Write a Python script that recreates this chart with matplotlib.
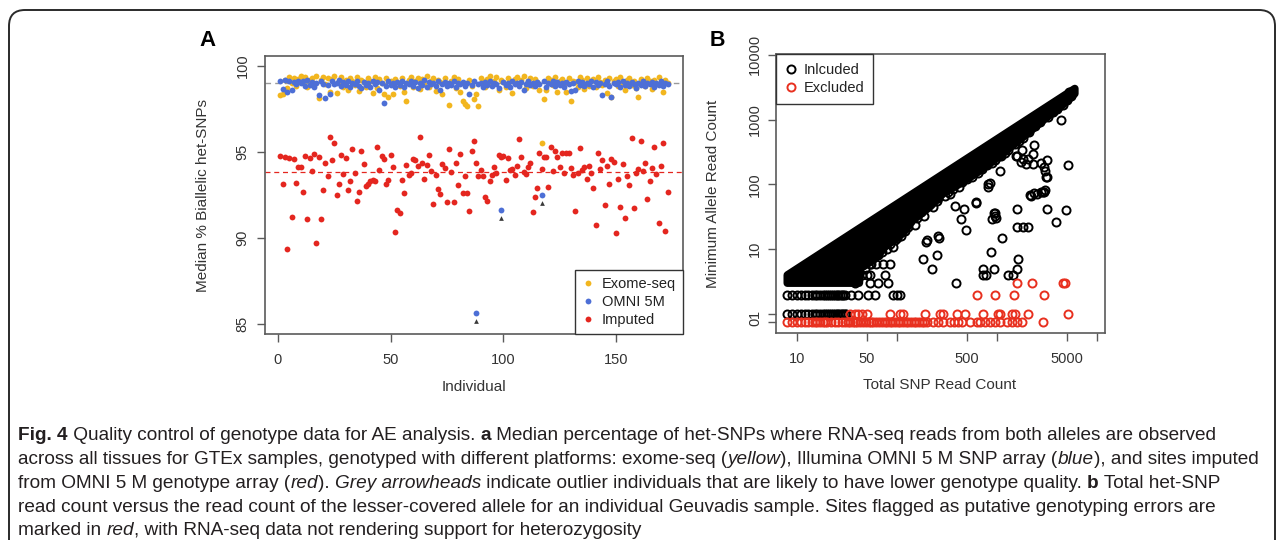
import matplotlib
matplotlib.use('Agg')
import matplotlib.pyplot as plt
import numpy as np
from matplotlib.lines import Line2D
from matplotlib.patches import FancyBboxPatch
from matplotlib.transforms import IdentityTransform
from matplotlib.ticker import NullLocator

## Panel A data: median % biallelic het-SNPs per individual

imputed = [94.77, 93.14, 94.73, 89.34, 94.67, 91.24, 94.57, 93.22, 94.11, 94.15,
           92.67, 94.79, 91.09, 94.63, 93.88, 94.88, 89.69, 94.73, 91.12, 92.79,
           94.34, 93.60, 95.85, 94.53, 95.54, 92.48, 93.14, 94.84, 93.72, 94.65,
           92.79, 93.33, 95.15, 93.76, 92.13, 92.67, 95.08, 94.30, 93.02, 93.14,
           93.30, 93.37, 93.33, 95.31, 93.95, 94.77, 94.57, 93.14, 93.37, 94.81,
           94.15, 90.35, 91.63, 91.43, 93.37, 92.63, 94.22, 93.64, 93.76, 94.61,
           94.53, 94.20, 95.85, 94.38, 93.45, 94.22, 94.81, 93.90, 91.98, 93.68,
           92.83, 92.56, 94.30, 94.05, 92.11, 95.19, 93.85, 92.11, 94.34, 93.06,
           94.88, 92.60, 93.60, 92.60, 91.57, 95.08, 95.62, 94.34, 93.60, 93.95,
           93.60, 92.37, 92.13, 93.33, 93.68, 94.10, 93.80, 94.83, 94.69, 94.77,
           93.37, 94.65, 93.95, 94.00, 93.66, 94.20, 95.77, 94.73, 93.86, 93.70,
           94.15, 94.34, 91.53, 92.37, 92.91, 94.92, 94.00, 94.73, 94.69, 92.95,
           95.31, 93.90, 95.08, 94.73, 94.10, 94.96, 93.80, 94.92, 94.92, 94.05,
           93.66, 91.57, 93.80, 95.21, 93.95, 94.10, 93.41, 94.20, 93.80, 92.91,
           90.76, 94.96, 94.00, 94.53, 91.92, 94.19, 93.14, 94.57, 94.42, 90.31,
           93.41, 91.78, 94.30, 91.18, 93.60, 93.08, 95.81, 91.73, 93.76, 94.00,
           95.62, 93.90, 94.34, 92.25, 93.31, 94.09, 95.30, 93.70, 90.90, 94.20,
           95.50, 90.40, 92.70]

omni = [99.15, 98.65, 99.20, 98.50, 99.10, 98.60, 99.05, 98.95, 99.15, 99.00,
        99.10, 98.85, 99.20, 98.90, 99.05, 98.80, 99.00, 98.30, 99.10, 98.95,
        98.15, 98.90, 98.40, 99.10, 98.95, 99.00, 99.20, 98.85, 99.05, 98.90,
        99.15, 98.75, 99.00, 98.95, 99.10, 98.85, 98.70, 99.05, 98.90, 99.00,
        98.80, 99.10, 98.95, 99.05, 98.60, 99.00, 97.83, 98.85, 99.10, 98.90,
        99.00, 98.75, 99.05, 98.90, 99.15, 98.80, 99.00, 98.95, 99.10, 98.85,
        99.05, 98.70, 99.00, 98.90, 99.20, 98.80, 99.05, 98.95, 99.00, 98.85,
        99.10, 98.60, 98.95, 99.05, 98.85, 99.00, 98.90, 99.10, 98.75, 99.00,
        98.95, 99.05, 98.85, 99.00, 98.37, 98.90, 99.10, 85.64, 98.95, 99.00,
        98.80, 99.05, 98.90, 99.10, 98.85, 99.00, 98.95, 98.70, 91.63, 99.05,
        98.90, 99.00, 98.80, 99.10, 98.95, 99.00, 98.85, 99.05, 98.60, 98.95,
        99.10, 98.90, 99.00, 98.85, 99.05, 98.95, 92.50, 99.15, 98.80, 99.00,
        98.95, 99.10, 98.85, 99.05, 98.90, 99.00, 98.75, 99.05, 98.95, 98.55,
        99.00, 98.60, 99.10, 98.90, 99.05, 98.85, 99.00, 98.95, 99.10, 98.80,
        99.05, 98.90, 99.00, 98.30, 98.95, 99.10, 98.85, 98.20, 99.00, 98.95,
        99.05, 98.80, 99.10, 98.90, 99.00, 98.85, 99.05, 98.95, 98.70, 99.00,
        98.90, 99.10, 98.85, 99.00, 98.95, 99.05, 98.80, 99.00, 98.90, 99.10,
        98.85, 99.00, 98.95]

exome = [98.31, 98.40, 99.20, 98.70, 99.35, 99.00, 99.30, 98.85, 99.25, 99.40,
         99.10, 99.35, 98.80, 99.20, 99.30, 98.90, 99.40, 98.12, 99.20, 99.35,
         98.95, 99.30, 98.50, 99.25, 99.40, 98.45, 99.15, 99.35, 98.75, 99.20,
         98.60, 99.30, 99.10, 98.90, 99.35, 98.55, 99.20, 99.05, 98.80, 99.30,
         99.15, 98.45, 99.35, 98.70, 99.25, 99.00, 98.40, 99.30, 98.20, 99.15,
         98.35, 99.25, 99.05, 98.85, 99.30, 98.50, 97.99, 99.20, 99.35, 98.75,
         99.10, 99.30, 98.65, 99.25, 98.95, 99.40, 98.80, 99.15, 99.30, 98.55,
         99.20, 99.05, 98.40, 99.30, 98.90, 97.76, 99.15, 99.35, 98.70, 99.25,
         98.50, 97.95, 97.80, 97.70, 99.20, 98.85, 98.10, 98.40, 97.70, 99.30,
         99.10, 98.75, 99.25, 99.40, 98.90, 99.15, 99.35, 98.60, 99.20, 99.05,
         98.80, 99.30, 99.15, 98.45, 99.25, 99.35, 98.95, 99.20, 99.40, 98.70,
         99.15, 99.30, 98.85, 99.25, 99.05, 98.60, 95.50, 98.06, 98.60, 99.30,
         99.20, 98.90, 99.35, 98.50, 99.10, 99.25, 98.95, 98.50, 99.30, 97.97,
         99.15, 99.05, 98.80, 99.35, 99.20, 98.65, 99.30, 98.85, 99.10, 99.25,
         98.75, 99.35, 99.05, 98.90, 99.20, 98.45, 99.30, 98.20, 99.10, 99.25,
         98.85, 99.35, 99.00, 98.60, 99.20, 99.30, 98.90, 99.15, 98.70, 98.20,
         99.25, 99.05, 98.85, 99.30, 99.15, 98.65, 99.20, 98.95, 99.35, 99.05,
         98.50, 99.20, 99.00]

outlier_ids = [88, 99, 117]
exome_median = 99.03
imputed_median = 93.86

## Panel B data: total SNP read count vs minimum allele read count

# solid region where the included points overlap completely
core_T = [8, 8, 6000, 6000, 4300, 2900, 2000, 1140, 620, 400, 290, 214, 145, 115, 76, 60, 43, 42]
core_m = [3, 4, 3000, 2500, 1540, 970, 600, 295, 147, 96, 72, 45, 28, 17.6, 10.8, 7, 5, 3]

incl_m1_T = [8, 9, 10, 11, 12, 13, 14, 15, 16, 17, 18, 19, 20, 21, 22, 23, 24, 25, 26, 27,
             28, 29, 30, 31]
incl_m2_T = [8, 9, 10, 11, 12, 13, 14, 15, 16, 17, 18, 19, 20, 21, 22, 23, 24, 25, 26, 27,
             28, 29, 30, 35, 41, 51, 60, 91, 100, 107]

included_sparse = [(54, 3), (65, 3), (81, 3), (385, 3), (54, 4), (76, 4), (730, 4), (775, 4),
                   (1300, 4), (1450, 4), (54, 6), (72, 6), (85, 6), (730, 5), (930, 5), (1580, 5),
                   (225, 5), (182, 7), (250, 8), (870, 9), (1610, 7), (195, 13), (263, 15),
                   (200, 14), (257, 16), (1120, 15), (490, 20), (440, 29), (890, 29), (970, 30),
                   (930, 36), (950, 36), (950, 33), (380, 47), (470, 41), (610, 51), (610, 53),
                   (1580, 41), (1580, 22), (1800, 22), (2040, 22), (2140, 68), (2350, 73),
                   (2780, 76), (2170, 67), (2500, 72), (2880, 76), (3020, 83), (3160, 41),
                   (3890, 26), (4900, 40), (5100, 196), (3160, 130), (3020, 163), (2780, 212),
                   (850, 105), (810, 103), (815, 91), (1070, 163), (770, 203), (830, 220),
                   (1050, 270), (1560, 270), (1770, 340), (1800, 250), (2060, 250), (1720, 220),
                   (1950, 208), (2300, 290), (2300, 208), (2340, 410), (1580, 270), (2950, 184),
                   (3100, 129), (2950, 76), (3130, 235), (4350, 966)]

included_edge = [(48, 5), (55, 6), (65, 8), (70, 9), (85, 12), (95, 14), (100, 15), (130, 22),
                 (160, 30), (175, 38), (250, 55), (260, 62), (320, 75), (360, 85), (450, 110),
                 (500, 120), (700, 170), (800, 200), (950, 240), (1300, 340), (1500, 420),
                 (1800, 520), (2400, 800), (3200, 1100), (3600, 1300), (5000, 2000),
                 (5500, 2300), (5200, 2700), (45, 4), (40, 4), (38, 3), (50, 4), (62, 6),
                 (80, 10), (92, 11), (110, 16), (120, 19), (150, 24), (185, 33), (230, 44),
                 (300, 66), (340, 70), (420, 92), (560, 130), (640, 150), (900, 210),
                 (1100, 270), (1200, 300), (1650, 460), (2100, 640), (2700, 900), (4000, 1450),
                 (4600, 1700)]

excl_m0_T = [8, 9, 10, 11, 12, 13, 14, 15, 16, 17, 18, 19, 20, 22, 24, 26, 28, 30, 32, 34,
             36, 38, 40, 43, 46, 49, 52, 55, 58, 62, 66, 70, 75, 80, 85, 90, 96, 102, 108, 115,
             122, 130, 138, 147, 156, 166, 176, 187, 198, 230, 260, 290, 340, 370, 410, 450,
             535, 630, 676, 760, 850, 960, 1070, 1260, 1410, 1580, 1780, 2900]
excl_m1_T = [34, 38, 41, 45, 50, 85, 107, 114, 190, 270, 290, 400, 480, 730, 1020, 1070, 1410,
             1510, 2040, 5100]
excl_m2_T = [630, 950, 1470, 2950]
excl_m3_T = [1580, 2240, 4600, 4800]

ZERO_POS = 0.75   # where a count of 0 sits on the log axis

## Caption

caption = [
    [("Fig. 4", 'b'), (" Quality control of genotype data for AE analysis. ", 'n'), ("a", 'b'),
     (" Median percentage of het-SNPs where RNA-seq reads from both alleles are observed", 'n')],
    [("across all tissues for GTEx samples, genotyped with different platforms: exome-seq (", 'n'),
     ("yellow", 'i'), ("), Illumina OMNI 5 M SNP array (", 'n'), ("blue", 'i'),
     ("), and sites imputed", 'n')],
    [("from OMNI 5 M genotype array (", 'n'), ("red", 'i'), ("). ", 'n'), ("Grey arrowheads", 'i'),
     (" indicate outlier individuals that are likely to have lower genotype quality. ", 'n'),
     ("b", 'b'), (" Total het-SNP", 'n')],
    [("read count versus the read count of the lesser-covered allele for an individual Geuvadis "
      "sample. Sites flagged as putative genotyping errors are", 'n')],
    [("marked in ", 'n'), ("red", 'i'), (", with RNA-seq data not rendering support for heterozygosity", 'n')],
]

W, H = 1282, 540
EXOME_C = '#F2B61F'
OMNI_C = '#4D6FD6'
IMPUTED_C = '#E4261F'
EXCL_C = '#E8301F'
AXIS_C = '#5a5a5a'
TXT_C = '#333333'
SANS = ['Liberation Sans', 'DejaVu Sans']
plt.rcParams['font.family'] = SANS


def px(x, y):
    return x / W, 1 - y / H


def style_axes(ax):
    for s in ax.spines.values():
        s.set_color(AXIS_C)
        s.set_linewidth(1.2)
    ax.tick_params(direction='out', length=6, width=1, color=AXIS_C, labelcolor=TXT_C,
                   labelsize=10.5)


fig = plt.figure(figsize=(W / 100, H / 100), dpi=100)

## Panel A

axA = fig.add_axes([265 / W, (H - 334) / H, 418 / W, 278 / H])
style_axes(axA)
ids = np.arange(1, len(imputed) + 1)
axA.plot(ids, exome, 'o', color=EXOME_C, ms=4.2, mew=0)
axA.plot(ids, omni, 'o', color=OMNI_C, ms=4.2, mew=0)
axA.plot(ids, imputed, 'o', color=IMPUTED_C, ms=4.2, mew=0)
axA.axhline(exome_median, color='#9a9a9a', ls=(0, (4, 3)), lw=1, zorder=0)
axA.axhline(imputed_median, color=IMPUTED_C, ls=(0, (4, 3)), lw=0.9, zorder=0)
arrow_y = [omni[i - 1] - 0.48 for i in outlier_ids]
axA.plot(outlier_ids, arrow_y, '^', color='#3a3a3a', ms=3.4, mew=0)
axA.set_xlim(-5.77, 179.8)
axA.set_ylim(84.42, 100.58)
axA.set_xticks([0, 50, 100, 150])
axA.set_yticks([85, 90, 95, 100])
axA.set_yticklabels(['85', '90', '95', '100'], rotation=90, va='center')
axA.tick_params(axis='x', pad=8)
axA.tick_params(axis='y', pad=5)
handles = [Line2D([], [], ls='none', marker='o', ms=4.2, mew=0, color=c) for c in (EXOME_C, OMNI_C, IMPUTED_C)]
legA = axA.legend(handles, ['Exome-seq', 'OMNI 5M', 'Imputed'], loc='lower right',
                  bbox_to_anchor=(1, 0), borderaxespad=0, fancybox=False, framealpha=1,
                  edgecolor='#333333', fontsize=10.5, handlelength=0.8, handletextpad=0.5,
                  borderpad=0.5, labelspacing=0.25)
legA.get_frame().set_linewidth(1)
for t in legA.get_texts():
    t.set_color('#222222')

## Panel B

axB = fig.add_axes([776 / W, (H - 333) / H, 329 / W, 279 / H])
style_axes(axB)
axB.set_xscale('log')
axB.set_yscale('log')
axB.fill(core_T, core_m, fc='black', ec='black', lw=5.5, joinstyle='round', zorder=2)
circ = dict(ls='none', marker='o', mfc='none', ms=5.8, mew=1.4, zorder=3)
axB.plot(incl_m1_T, [1] * len(incl_m1_T), mec='black', **circ)
axB.plot(incl_m2_T, [2] * len(incl_m2_T), mec='black', **circ)
sp_T, sp_m = zip(*included_sparse)
axB.plot(sp_T, sp_m, mec='black', **circ)
ed_T, ed_m = zip(*included_edge)
axB.plot(ed_T, ed_m, mec='black', **circ)
axB.plot(excl_m0_T, [ZERO_POS] * len(excl_m0_T), mec=EXCL_C, **circ)
axB.plot(excl_m1_T, [1] * len(excl_m1_T), mec=EXCL_C, **circ)
axB.plot(excl_m2_T, [2] * len(excl_m2_T), mec=EXCL_C, **circ)
axB.plot(excl_m3_T, [3] * len(excl_m3_T), mec=EXCL_C, **circ)
axB.set_xlim(10 ** 0.79, 10 ** 4.08)
axB.set_ylim(10 ** -0.292, 10 ** 4.01)
axB.xaxis.set_minor_locator(NullLocator())
axB.yaxis.set_minor_locator(NullLocator())
axB.set_xticks([10, 50, 100, 500, 1000, 5000, 10000])
axB.set_xticklabels(['10', '50', '', '500', '', '5000', ''])
axB.set_yticks([ZERO_POS, 1, 10, 100, 1000, 10000])
axB.set_yticklabels(['0', '1', '10', '100', '1000', '10000'], rotation=90, va='center')
axB.tick_params(axis='x', pad=8)
axB.tick_params(axis='y', pad=4)
hB = [Line2D([], [], ls='none', marker='o', mfc='none', ms=5.8, mew=1.4, mec=c) for c in ('black', EXCL_C)]
legB = axB.legend(hB, ['Inlcuded', 'Excluded'], loc='upper left', bbox_to_anchor=(0, 1),
                  borderaxespad=0, fancybox=False, framealpha=1, edgecolor='#333333',
                  fontsize=10.5, handlelength=0.8, handletextpad=0.5, borderpad=0.6,
                  labelspacing=0.3)
legB.get_frame().set_linewidth(1)
for t in legB.get_texts():
    t.set_color('#222222')

## Axis labels and panel letters

fig.text(*px(474, 387), 'Individual', ha='center', va='center', fontsize=11, color=TXT_C)
fig.text(*px(203, 195), 'Median % Biallelic het-SNPs', ha='center', va='center', rotation=90,
         fontsize=11, color=TXT_C)
fig.text(*px(940, 385), 'Total SNP Read Count', ha='center', va='center', fontsize=11, color=TXT_C)
fig.text(*px(713, 194), 'Minimum Allele Read Count', ha='center', va='center', rotation=90,
         fontsize=11, color=TXT_C)
fig.text(*px(207, 41), 'A', ha='center', va='center', fontsize=16, weight='bold', color='black')
fig.text(*px(717, 40), 'B', ha='center', va='center', fontsize=15.5, weight='bold', color='black')

## Frame around the figure

frame = FancyBboxPatch((9, -30), 1266, 560, boxstyle='round,pad=0,rounding_size=16',
                       transform=IdentityTransform(), fill=False, ec='#2a2a2a', lw=1.4)
fig.add_artist(frame)

## Caption with mixed bold / italic runs

CAP_FONT = ['Liberation Sans Narrow', 'DejaVu Sans Condensed', 'Liberation Sans']
renderer = fig.canvas.get_renderer()


def run_kw(st, size):
    return dict(fontsize=size, family=CAP_FONT, color='#231f20',
                weight='bold' if st == 'b' else 'normal',
                style='italic' if st == 'i' else 'normal')


def run_width(s, kw):
    t1 = fig.text(0, 0, 'X' + s + 'X', **kw)
    t2 = fig.text(0, 0, 'XX', **kw)
    w = t1.get_window_extent(renderer).width - t2.get_window_extent(renderer).width
    t1.remove()
    t2.remove()
    return w


ref_size = 12
line2_w = sum(run_width(s, run_kw(st, ref_size)) for s, st in caption[1])
cap_size = ref_size * 1247 / line2_w

baselines = [440, 464, 488, 512, 535]
for runs, yb in zip(caption, baselines):
    x = 18
    for s, st in runs:
        kw = run_kw(st, cap_size)
        fig.text(*px(x, yb), s, ha='left', va='baseline', **kw)
        x += run_width(s, kw)

fig.savefig('out.png', dpi=100)
